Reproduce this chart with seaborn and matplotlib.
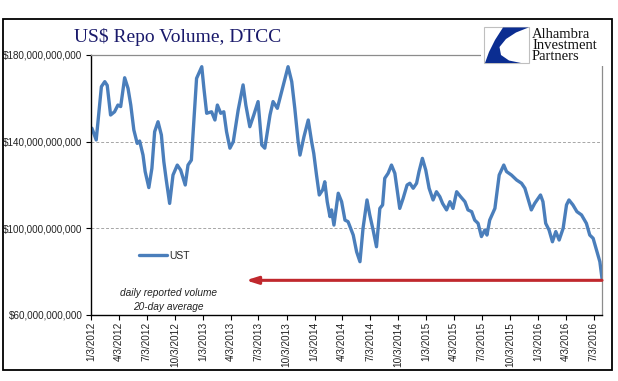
import pandas as pd
import seaborn as sns
import matplotlib
matplotlib.use("Agg")
import matplotlib.pyplot as plt
import matplotlib.dates as mdates
from matplotlib.patches import Rectangle, Polygon
from matplotlib.ticker import FuncFormatter, FixedLocator

# UST repo volume, 20-day average (billions of US$)
dates = [
    "2012-01-03", "2012-01-06", "2012-01-20", "2012-02-06", "2012-02-17", "2012-02-25",
    "2012-03-07", "2012-03-20", "2012-03-31", "2012-04-09", "2012-04-22", "2012-05-03",
    "2012-05-12", "2012-05-22", "2012-06-02", "2012-06-10", "2012-06-21", "2012-06-28",
    "2012-07-10", "2012-07-20", "2012-07-29", "2012-08-09", "2012-08-20", "2012-08-28",
    "2012-09-05", "2012-09-16", "2012-09-27", "2012-10-11", "2012-10-22", "2012-11-06",
    "2012-11-15", "2012-11-26", "2012-12-04", "2012-12-13", "2012-12-30", "2013-01-06",
    "2013-01-15", "2013-01-31", "2013-02-11", "2013-02-19", "2013-03-02", "2013-03-12",
    "2013-03-21", "2013-04-01", "2013-04-12", "2013-04-28", "2013-05-14", "2013-05-23",
    "2013-06-05", "2013-06-18", "2013-07-02", "2013-07-14", "2013-07-24", "2013-08-10",
    "2013-08-20", "2013-09-03", "2013-09-17", "2013-09-28", "2013-10-08", "2013-10-20",
    "2013-10-30", "2013-11-10", "2013-11-16", "2013-11-29", "2013-12-13", "2013-12-24",
    "2013-12-31", "2014-01-09", "2014-01-18", "2014-01-29", "2014-02-05", "2014-02-13",
    "2014-02-22", "2014-02-27", "2014-03-07", "2014-03-21", "2014-04-01", "2014-04-12",
    "2014-04-22", "2014-05-09", "2014-05-20", "2014-05-31", "2014-06-10", "2014-06-23",
    "2014-07-02", "2014-07-13", "2014-07-24", "2014-08-04", "2014-08-13", "2014-08-20",
    "2014-08-31", "2014-09-11", "2014-09-22", "2014-10-08", "2014-10-19", "2014-11-01",
    "2014-11-10", "2014-11-21", "2014-12-02", "2014-12-10", "2014-12-21", "2015-01-01",
    "2015-01-12", "2015-01-25", "2015-02-05", "2015-02-16", "2015-02-25", "2015-03-10",
    "2015-03-21", "2015-03-31", "2015-04-12", "2015-04-25", "2015-05-09", "2015-05-19",
    "2015-05-31", "2015-06-10", "2015-06-21", "2015-07-02", "2015-07-13", "2015-07-20",
    "2015-07-29", "2015-08-15", "2015-08-29", "2015-09-13", "2015-09-22", "2015-10-08",
    "2015-10-25", "2015-11-10", "2015-11-21", "2015-12-01", "2015-12-12", "2015-12-23",
    "2016-01-03", "2016-01-11", "2016-01-19", "2016-01-28", "2016-02-08", "2016-02-19",
    "2016-03-01", "2016-03-12", "2016-03-25", "2016-04-05", "2016-04-13", "2016-04-26",
    "2016-05-09", "2016-05-24", "2016-06-09", "2016-06-20", "2016-07-01", "2016-07-12",
    "2016-07-23", "2016-07-30",
]
volume_bn = [
    146.0, 146.2, 140.8, 165.4, 167.7, 166.0,
    152.3, 153.8, 156.9, 156.2, 169.5, 164.6,
    156.9, 145.4, 139.2, 140.3, 133.8, 126.2,
    118.8, 127.7, 144.6, 149.2, 143.1, 130.8,
    122.3, 111.5, 124.6, 129.2, 126.9, 120.0,
    129.2, 131.5, 149.2, 169.2, 174.6, 164.6,
    153.1, 153.8, 150.0, 156.9, 153.1, 153.8,
    144.6, 137.0, 140.0, 154.6, 166.2, 156.9,
    146.9, 152.3, 158.5, 138.5, 137.0, 152.3,
    158.5, 155.4, 163.1, 169.2, 174.6, 167.7,
    155.4, 140.0, 133.8, 142.3, 150.0, 140.0,
    134.6, 124.6, 115.4, 117.7, 121.5, 112.3,
    105.4, 108.5, 101.5, 116.2, 112.3, 103.8,
    103.1, 96.9, 89.2, 84.6, 100.0, 113.1,
    106.2, 99.2, 91.5, 109.2, 110.8, 123.1,
    125.4, 129.2, 125.4, 109.2, 113.8, 120.0,
    120.8, 118.5, 120.8, 126.2, 132.3, 126.9,
    118.5, 113.1, 116.9, 114.6, 111.5, 108.5,
    112.3, 109.2, 116.9, 114.6, 112.3, 108.5,
    107.7, 103.8, 102.3, 96.2, 99.2, 96.9,
    103.8, 109.2, 124.6, 129.2, 126.2, 124.6,
    122.3, 120.8, 118.5, 113.8, 108.5, 111.5,
    113.8, 115.4, 112.3, 102.3, 99.2, 93.8,
    98.5, 94.6, 100.0, 110.8, 113.1, 110.8,
    107.7, 106.2, 102.3, 96.9, 95.4, 90.0,
    84.6, 76.9,
]
series_label = "UST"
title = "US$ Repo Volume, DTCC"
note_lines = ["daily reported volume", "20-day average"]
y_ticks_bn = [60, 100, 140, 180]
x_range = ["2012-01-03", "2016-07-30"]
arrow_level_bn = 76
arrow_from, arrow_to = "2016-07-30", "2013-05-23"
logo_lines = ["Alhambra", "Investment", "Partners"]

df = pd.DataFrame({"date": pd.to_datetime(dates), "volume": [v * 1e9 for v in volume_bn]})

sns.set_style("white")
plt.rcParams["font.family"] = ["Liberation Sans", "DejaVu Sans"]

W, H = 618, 381
fig = plt.figure(figsize=(W / 100, H / 100), dpi=100)


def px(x, y):
    return (x / W, 1 - y / H)


ax = fig.add_axes([91 / W, 1 - 315 / H, 511 / W, 260 / H])

blue = "#4A7EBB"
sns.lineplot(data=df, x="date", y="volume", ax=ax, color=blue, lw=2.4, label=series_label)

ax.set_ylim(y_ticks_bn[0] * 1e9, y_ticks_bn[-1] * 1e9)
ax.yaxis.set_major_locator(FixedLocator([t * 1e9 for t in y_ticks_bn]))
ax.yaxis.set_major_formatter(FuncFormatter(lambda v, p: "${:,.0f}".format(v)))
ax.set_xlim(pd.Timestamp(x_range[0]), pd.Timestamp(x_range[1]))
ax.xaxis.set_major_locator(mdates.MonthLocator(bymonth=[1, 4, 7, 10], bymonthday=3))
ax.xaxis.set_major_formatter(FuncFormatter(
    lambda v, p: "{d.month}/{d.day}/{d.year}".format(d=mdates.num2date(v))))
ax.set_xlabel("")
ax.set_ylabel("")

ax.tick_params(axis="y", direction="out", length=3.5, width=0.8, color="black",
               labelsize=7.1, labelcolor="#222222", pad=2.5, left=True)
ax.tick_params(axis="x", direction="out", length=3.5, width=0.8, color="black",
               labelsize=7.2, labelcolor="#222222", pad=1.5, bottom=True, labelrotation=90)

ax.grid(axis="y", color="#A6A6A6", linestyle=(0, (3, 2)), lw=0.7)
ax.grid(axis="x", visible=False)
for side in ["left", "bottom"]:
    ax.spines[side].set_color("black")
    ax.spines[side].set_linewidth(1.0)
for side in ["top", "right"]:
    ax.spines[side].set_visible(True)
    ax.spines[side].set_color("#8C8C8C")
    ax.spines[side].set_linewidth(0.9)

ax.legend(loc="center left", bbox_to_anchor=(0.094, 0.227), frameon=False,
          fontsize=7.5, handlelength=2.7, handletextpad=0.2, borderpad=0, borderaxespad=0)

ax.annotate("", xy=(mdates.date2num(pd.Timestamp(arrow_to)), arrow_level_bn * 1e9),
            xytext=(mdates.date2num(pd.Timestamp(arrow_from)), arrow_level_bn * 1e9),
            arrowprops=dict(arrowstyle="-|>,head_length=0.7,head_width=0.22",
                            color="#C0282D", lw=2.2, shrinkA=0, shrinkB=0))

ax.text(0.152, 0.086, note_lines[0], transform=ax.transAxes, ha="center", va="center",
        fontsize=7.3, style="italic", color="#222222")
ax.text(0.152, 0.032, note_lines[1], transform=ax.transAxes, ha="center", va="center",
        fontsize=7.3, style="italic", color="#222222")

# title
fig.text(*px(177.5, 42), title, ha="center", va="baseline", fontsize=14,
         family=["Liberation Serif", "DejaVu Serif"], color="#1A1A6B")

# logo area (covers top-right corner of plot frame)
fig.add_artist(Rectangle(px(481, 66), 130 / W, 46 / H, transform=fig.transFigure,
                         facecolor="white", edgecolor="none", zorder=5))
fig.add_artist(Rectangle(px(484, 63), 45 / W, 36 / H, transform=fig.transFigure,
                         facecolor="white", edgecolor="#BFBFBF", lw=0.8, zorder=6))
swoosh = [(503, 27.5), (528.5, 27.5), (516, 32.5), (506, 39), (499.5, 47), (501, 55),
          (509, 60.5), (521, 63), (485, 63), (489, 52), (495, 40)]
fig.add_artist(Polygon([px(x, y) for x, y in swoosh], closed=True, transform=fig.transFigure,
                       facecolor="#0B2D91", edgecolor="none", zorder=7))
fig.text(*px(532, 27.5), "\n".join(logo_lines), ha="left", va="top", fontsize=10.5,
         linespacing=0.82, family=["Liberation Serif", "DejaVu Serif"], color="#111111",
         zorder=7)

# outer frame
fig.add_artist(Rectangle(px(3, 370), 609 / W, 351 / H, transform=fig.transFigure,
                         facecolor="none", edgecolor="black", lw=1.3, zorder=8))

fig.savefig("out.png", dpi=100)
